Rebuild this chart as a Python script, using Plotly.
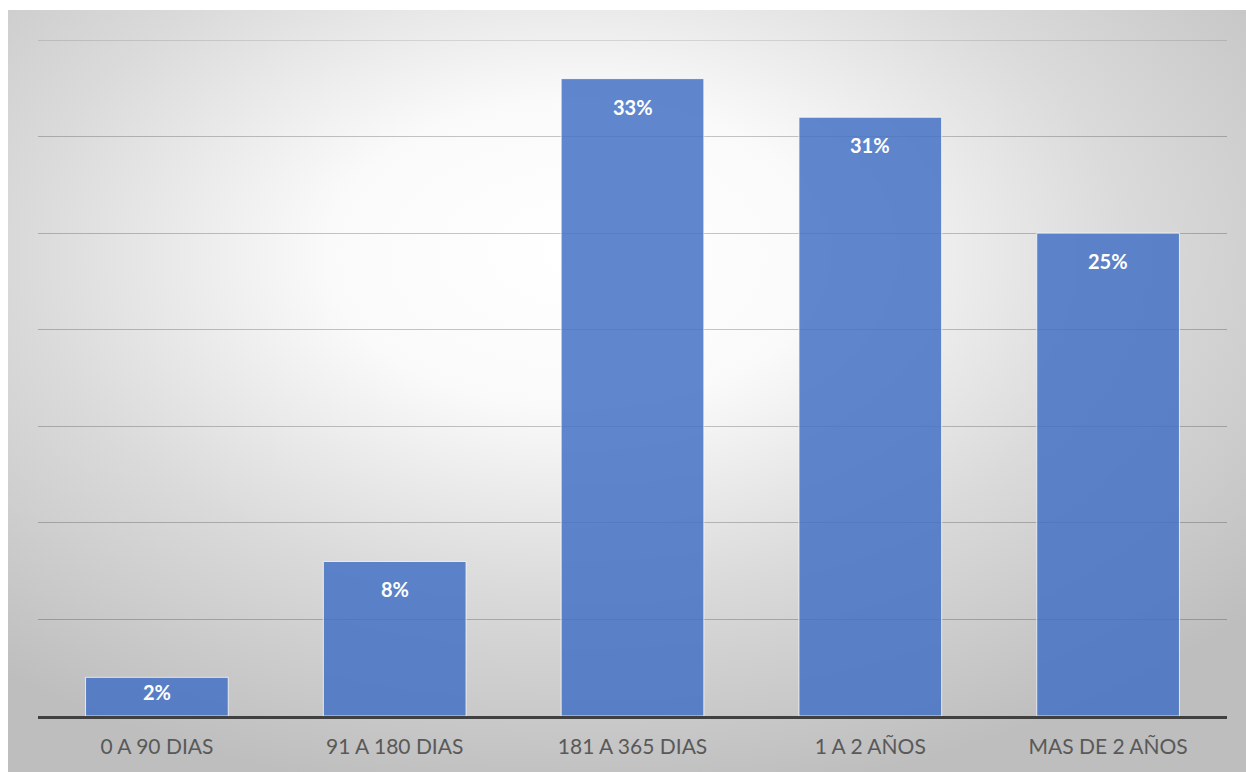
import base64
import plotly.graph_objects as go

# Distribution of items by age bracket (percent)
categories = ["0 A 90 DIAS", "91 A 180 DIAS", "181 A 365 DIAS", "1 A 2 AÑOS", "MAS DE 2 AÑOS"]
values = [2, 8, 33, 31, 25]
value_labels = [f"{v}%" for v in values]

W, H = 1246, 772
M_L, M_R, M_T, M_B = 38, 19, 40, 56
plot_w = W - M_L - M_R
plot_h = H - M_T - M_B
Y_MAX = 35
FONT = "Lato, Carlito, Noto Sans"
GRID = "rgba(0,0,0,0.22)"

# Radial gradient backdrop for the chart area
svg = (
    '<svg xmlns="http://www.w3.org/2000/svg" width="1238" height="762" viewBox="0 0 1238 762" preserveAspectRatio="none">'
    '<defs><radialGradient id="g" cx="0.46" cy="0.32" r="0.72" gradientUnits="objectBoundingBox">'
    '<stop offset="0" stop-color="#ffffff"/>'
    '<stop offset="0.28" stop-color="#fafafa"/>'
    '<stop offset="0.62" stop-color="#dadada"/>'
    '<stop offset="1" stop-color="#bebebe"/>'
    '</radialGradient></defs>'
    '<rect width="1238" height="762" fill="url(#g)"/></svg>'
)
bg_uri = "data:image/svg+xml;base64," + base64.b64encode(svg.encode()).decode()

x0 = (8 - M_L) / plot_w
x1 = (W - M_L) / plot_w
y_top = (H - M_B - 10) / plot_h
y_bot = (H - M_B - H) / plot_h

fig = go.Figure()
fig.add_trace(go.Bar(
    x=categories,
    y=values,
    width=0.6,
    marker=dict(color="rgba(68,114,196,0.85)", line=dict(color="rgba(255,255,255,0.75)", width=1)),
    hoverinfo="skip",
))

# Value labels just inside the top of each bar (centred in short bars)
for cat, v, lab in zip(categories, values, value_labels):
    bar_px = v * plot_h / Y_MAX
    fig.add_annotation(
        x=cat, y=v, text=f"<b>{lab}</b>", showarrow=False,
        yanchor="middle", yshift=-min(28, bar_px * 0.37),
        font=dict(family=FONT, size=20, color="#ffffff"),
    )

# Top gridline at the axis maximum
fig.add_shape(type="line", xref="paper", yref="y", x0=0, x1=1, y0=Y_MAX, y1=Y_MAX,
              line=dict(color=GRID, width=1.2), layer="below")

fig.add_layout_image(dict(
    source=bg_uri, xref="paper", yref="paper",
    x=x0, y=y_top, sizex=x1 - x0, sizey=y_top - y_bot,
    xanchor="left", yanchor="top", sizing="stretch", layer="below",
))

fig.update_layout(
    width=W, height=H,
    margin=dict(l=M_L, r=M_R, t=M_T, b=M_B),
    paper_bgcolor="#ffffff",
    plot_bgcolor="rgba(0,0,0,0)",
    showlegend=False,
    font=dict(family=FONT, size=21, color="#595959"),
    xaxis=dict(
        showgrid=False, showline=True, linecolor="#404040", linewidth=3,
        ticks="", tickfont=dict(size=21, color="#595959"), ticklabelstandoff=10,
    ),
    yaxis=dict(
        range=[0, Y_MAX], dtick=5, showticklabels=False, zeroline=False,
        showgrid=True, gridcolor=GRID, gridwidth=1.2,
    ),
)

fig.write_html("out.html")
